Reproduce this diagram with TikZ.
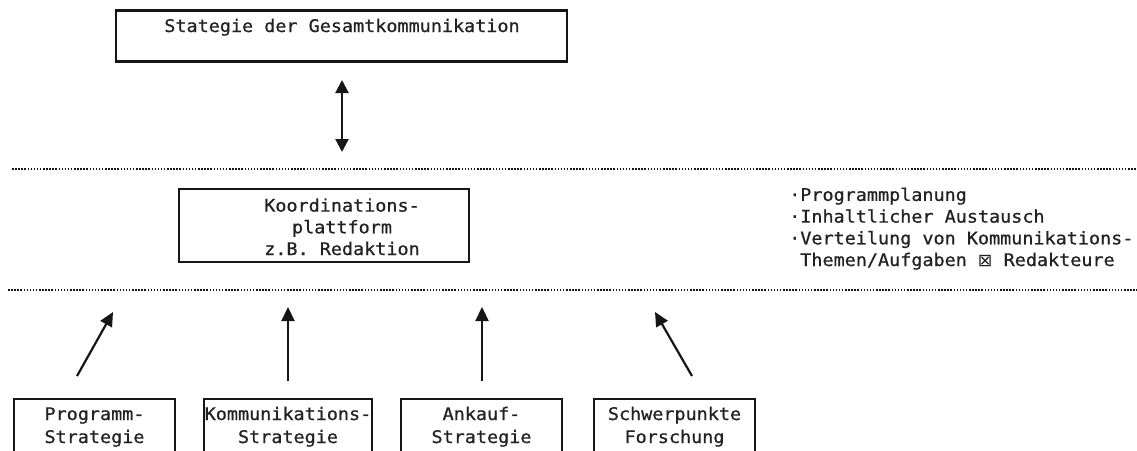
\documentclass[tikz,border=0pt]{standalone}
\usepackage{fontspec}
\setmonofont[FakeStretch=1.06,FakeBold=0.8]{DejaVu Sans Mono}
\newfontfamily\symfont{DejaVu Sans}
\usetikzlibrary{arrows.meta}
\definecolor{ink}{HTML}{161616}
\definecolor{txt}{HTML}{222222}
\begin{document}
\begin{tikzpicture}[x=1pt,y=-1pt,
  frame/.style={draw=ink, line width=2.4pt, inner sep=0pt},
  words/.style={text=txt, font=\ttfamily\fontsize{17.4}{21.7}\selectfont,
    inner sep=0pt, align=center, anchor=base},
  lowwords/.style={words, font=\ttfamily\fontsize{17.4}{23}\selectfont},
  sepline/.style={draw=ink, line width=2pt, dash pattern=on 1.5pt off 1.6pt},
  flow/.style={draw=ink, line width=2.2pt, -{Triangle[width=13pt,length=14pt]}},
  twoway/.style={draw=ink, line width=2.2pt,
    {Triangle[width=13pt,length=13pt]}-{Triangle[width=13pt,length=13pt]}}
]
\useasboundingbox (0,0) rectangle (1137,450);
\clip (0,0) rectangle (1137,450);

% overall strategy
\node[frame, minimum width=451pt, minimum height=51pt] (top) at (341.5,36) {};
\node[words] (toptext) at (342,32) {Stategie der Gesamtkommunikation};

% two-way link down to the coordination level
\coordinate (d1) at (342,80);
\coordinate (d2) at (342,152);
\draw[twoway] (d1) -- (d2);

% level separators
\draw[sepline] (12,169) -- (1137,169);
\draw[sepline] (8,290) -- (1137,290);

% coordination platform (text anchored on its last baseline)
\node[frame, minimum width=290pt, minimum height=73pt] (koord) at (324,225.5) {};
\node[words] (koordtext) at (342,255) {Koordinations-\\plattform\\z.B. Redaktion};

% its tasks
\node[words, align=left, anchor=base west] (tasks) at (789,266)
  {·Programmplanung\\·Inhaltlicher Austausch\\·Verteilung von Kommunikations-\\\phantom{·}Themen/Aufgaben {\symfont ⊠} Redakteure};

% partial strategies
\node[frame, minimum width=161pt, minimum height=80pt] (s1) at (94.5,439) {};
\node[frame, minimum width=168pt, minimum height=80pt] (s2) at (288,439) {};
\node[frame, minimum width=161pt, minimum height=80pt] (s3) at (481.5,439) {};
\node[frame, minimum width=161pt, minimum height=80pt] (s4) at (674.5,439) {};
\node[lowwords] (t1) at (94.5,443) {Programm-\\Strategie};
\node[lowwords] (t2) at (288,443) {Kommunikations-\\Strategie};
\node[lowwords] (t3) at (481.5,443) {Ankauf-\\Strategie};
\node[lowwords] (t4) at (674.5,443) {Schwerpunkte\\Forschung};

% inputs towards the coordination level
\coordinate (a1s) at (77,376);  \coordinate (a1e) at (113,312);
\coordinate (a2s) at (288,381); \coordinate (a2e) at (288,307);
\coordinate (a3s) at (482,381); \coordinate (a3e) at (482,307);
\coordinate (a4s) at (692,376); \coordinate (a4e) at (655,312);
\draw[flow] (a1s) -- (a1e);
\draw[flow] (a2s) -- (a2e);
\draw[flow] (a3s) -- (a3e);
\draw[flow] (a4s) -- (a4e);
\end{tikzpicture}
\end{document}
